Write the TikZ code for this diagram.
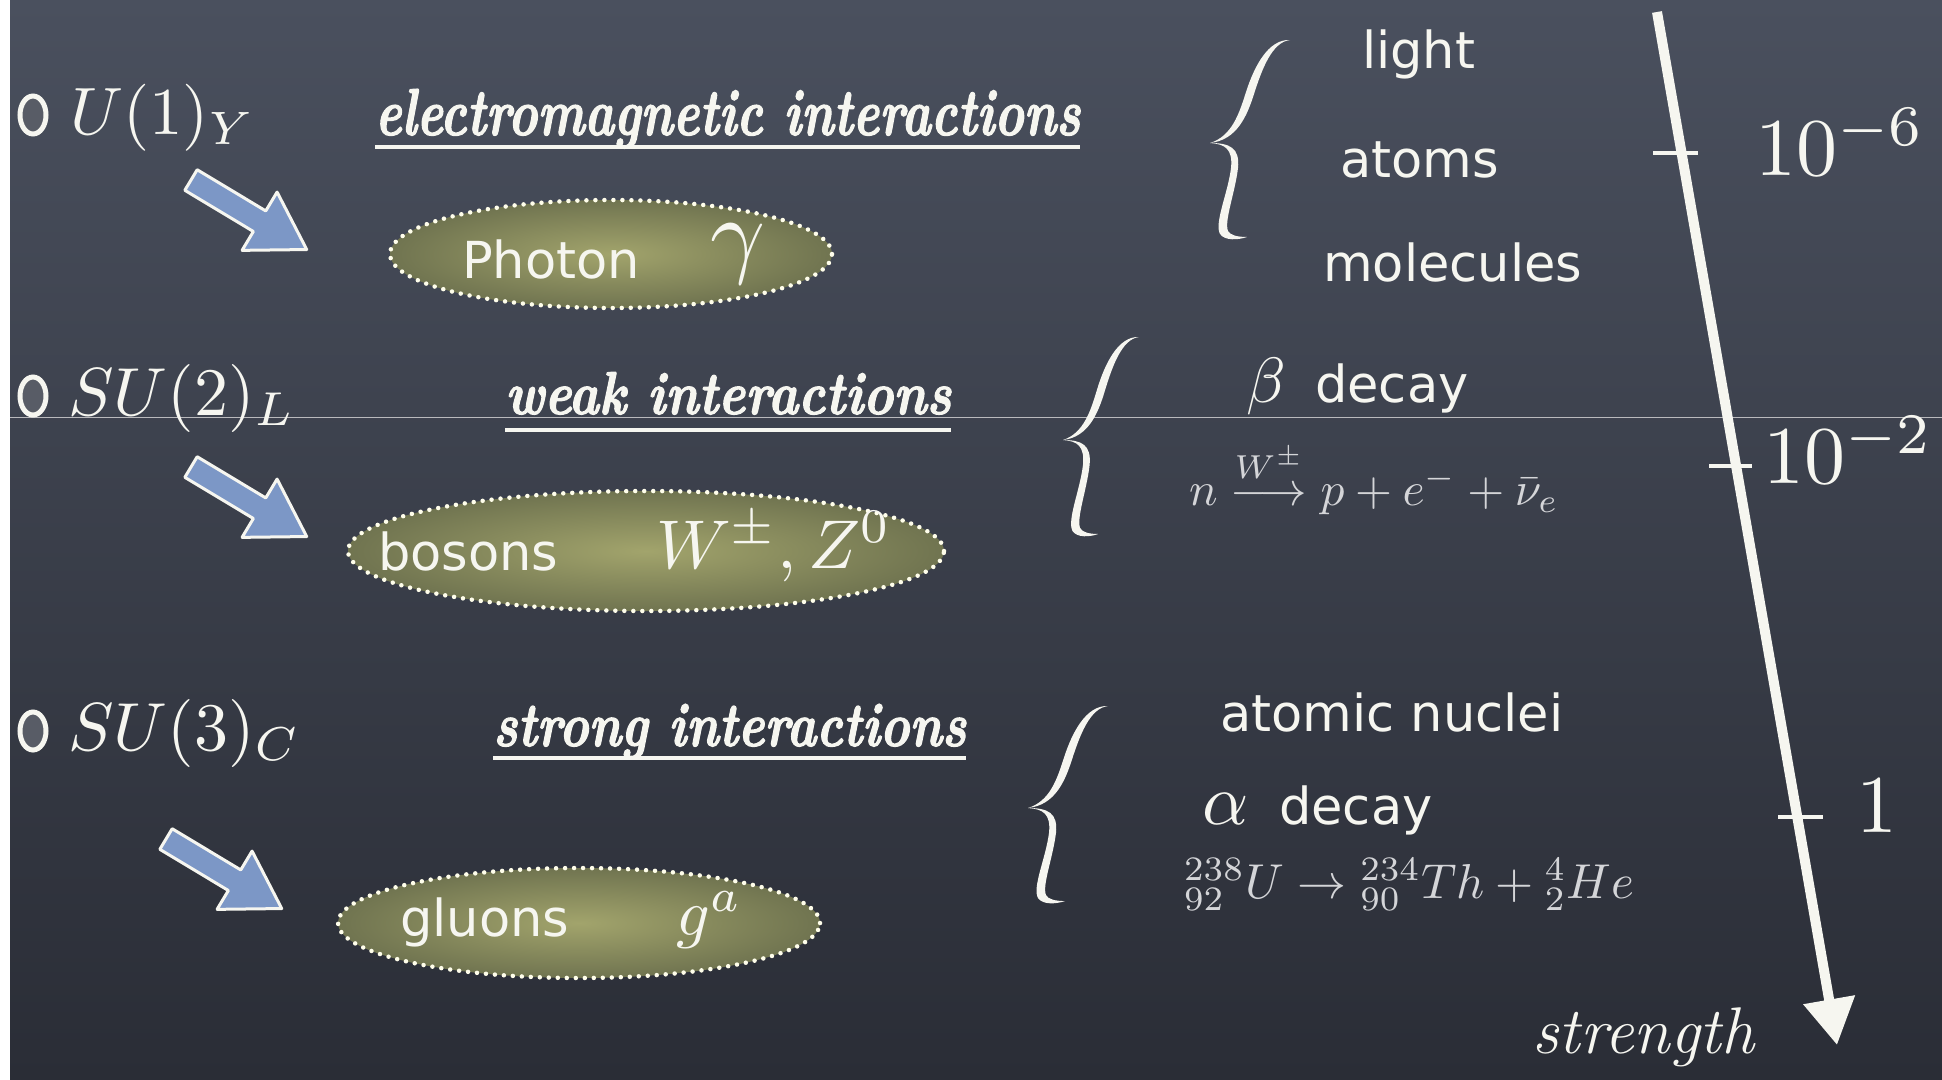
\documentclass[tikz,border=0pt]{standalone}
\usepackage{fontspec}
\usepackage{graphicx}
\usetikzlibrary{arrows.meta,shapes.geometric}
\newfontfamily\chalk{DejaVu Sans}
\newfontfamily\titlefont{lmroman10-bolditalic.otf}[FakeBold=2]
\definecolor{bgtop}{RGB}{74,80,94}
\definecolor{bgmid}{RGB}{60,65,78}
\definecolor{bgbot}{RGB}{42,45,54}
\definecolor{oliveIn}{RGB}{162,164,108}
\definecolor{oliveOut}{RGB}{112,116,80}
\definecolor{arrowblue}{RGB}{124,151,198}
\definecolor{chalkwhite}{RGB}{246,246,240}
\definecolor{dimwhite}{RGB}{212,213,216}
\definecolor{bulletfill}{RGB}{88,92,102}
\newcommand{\mth}[2]{\scalebox{#1}{$#2$}}
\newcommand{\blkarrow}[2]{%
  \begin{scope}[shift={#1}, rotate=#2]
    \filldraw[fill=arrowblue, draw=chalkwhite, line width=3pt, line join=round]
      (0,12) -- (80,12) -- (80,34) -- (135,0) -- (80,-34) -- (80,-12) -- (0,-12) -- cycle;
  \end{scope}}
\newcommand{\chalkbrace}[2]{% #1 = tip coordinate, #2 = extra scope options
  \begin{scope}[shift={#1}, #2]
    \fill[chalkwhite] (80,-103) .. controls (58,-104) and (44,-76) .. (36,-51)
      .. controls (29,-29) and (22,-7) .. (0,0)
      .. controls (27,-3) and (37,-27) .. (44,-49)
      .. controls (52,-74) and (62,-101) .. (80,-103) -- cycle;
    \fill[chalkwhite] (0,0) .. controls (15,1) and (23,6) .. (21,25)
      .. controls (18,50) and (4,80) .. (10,91)
      .. controls (15,98) and (28,97) .. (37,94)
      .. controls (27,94) and (20,92) .. (18,88)
      .. controls (14,78) and (25,50) .. (28,25)
      .. controls (30,5) and (20,0) .. (0,0) -- cycle;
  \end{scope}}
\tikzset{
  lbl/.style={inner sep=0pt, anchor=base west, text=chalkwhite},
  chalktext/.style={lbl, font=\chalk\fontsize{51}{60}\selectfont},
  react/.style={lbl, text=dimwhite},
  title/.style={lbl, font=\titlefont},
  uline/.style={draw=chalkwhite, line width=3.5pt},
  bullet/.style={draw=chalkwhite, fill=bulletfill, line width=5pt},
  particle/.style={ellipse, inner sep=0pt, inner color=oliveIn, outer color=oliveOut,
    draw=white!92!yellow, line width=4.5pt, dash pattern=on 0pt off 9pt, line cap=round},
  tick/.style={draw=chalkwhite, line width=4.5pt},
  axis/.style={draw=chalkwhite, line width=10pt, -{Triangle[length=46pt,width=50pt]}},
}
\begin{document}
\begin{tikzpicture}[x=1pt,y=-1pt]
\useasboundingbox (0,0) rectangle (1942,1079);
\fill[white] (0,0) rectangle (10,1079);
\shade[top color=bgtop, middle color=bgmid, bottom color=bgbot] (10,0) rectangle (1942,1079);
\draw[line width=1pt, color=white!70!gray, opacity=0.8] (10,417.5) -- (1942,417.5);

% ---- group labels
\draw[bullet] (33,115) ellipse [x radius=13, y radius=19];
\node[lbl] (u1) at (70,134) {\mth{6.7}{U(1)_Y}};
\draw[bullet] (33,396) ellipse [x radius=13, y radius=19];
\node[lbl] (su2) at (68,415) {\mth{6.8}{SU(2)_L}};
\draw[bullet] (33,731) ellipse [x radius=13, y radius=19];
\node[lbl] (su3) at (68,750) {\mth{6.8}{SU(3)_C}};

% ---- interaction titles
\node[title] (em) at (375,135) {\resizebox{705pt}{46pt}{electromagnetic interactions}};
\draw[uline] (375,147) -- (1080,147);
\node[title] (weak) at (505,414) {\resizebox{446pt}{42pt}{weak interactions}};
\draw[uline] (505,430) -- (951,430);
\node[title] (strong) at (493,746) {\resizebox{473pt}{42pt}{strong interactions}};
\draw[uline] (493,758) -- (966,758);

% ---- block arrows
\blkarrow{(191,180)}{-31}
\blkarrow{(191,467)}{-31}
\blkarrow{(166,839)}{-31}

% ---- particle ellipses
\node[particle, minimum width=442pt, minimum height=108pt] (e1) at (611,254) {};
\node[chalktext] (photon) at (462,278) {Photon};
\node[lbl] (gam) at (710,265) {\mth{9.6}{\gamma}};

\node[particle, minimum width=596pt, minimum height=120pt] (e2) at (646,551) {};
\node[chalktext] (bosons) at (378,570) {bosons};
\node[lbl] (wz) at (656,568) {\mth{6.9}{W^{\pm},Z^0}};

\node[particle, minimum width=482pt, minimum height=110pt] (e3) at (579,923) {};
\node[chalktext] (gluons) at (400,936) {gluons};
\node[lbl] (ga) at (676,935) {\mth{6.6}{g^a}};

% ---- braces
\chalkbrace{(1210,143)}{}
\chalkbrace{(1063,440)}{xscale=0.95}
\chalkbrace{(1028,808)}{yscale=0.99}

% ---- examples
\node[chalktext] (light) at (1362,68) {light};
\node[chalktext] (atoms) at (1340,177) {atoms};
\node[chalktext] (molec) at (1323,281) {molecules};

\node[lbl] (beta) at (1246,402) {\mth{6.4}{\beta}};
\node[chalktext] (bdecay) at (1315,402) {decay};
\node[react] (nreac) at (1189,505) {\mth{4.75}{n\stackrel{W^{\pm}}{\longrightarrow}p+e^{-}+\bar{\nu}_e}};

\node[chalktext] (nuclei) at (1220,731) {atomic nuclei};
\node[lbl] (alpha) at (1202,824) {\mth{7.2}{\alpha}};
\node[chalktext] (adecay) at (1279,824) {decay};
\node[react] (ureac) at (1184,898) {\mth{4.9}{{}^{238}_{92}U\rightarrow{}^{234}_{90}Th+{}^{4}_{2}He}};

% ---- strength axis
\coordinate (atop) at (1657,12);
\coordinate (abot) at (1837,1045);
\draw[axis] (atop) -- (abot);
\draw[tick] (1653,153) -- (1698,153);
\draw[tick] (1709,466) -- (1752,466);
\draw[tick] (1778,817) -- (1823,817);
\node[lbl] (s6) at (1755,175) {\mth{8.2}{10^{-6}}};
\node[lbl] (s2) at (1763,483) {\mth{8.2}{10^{-2}}};
\node[lbl] (s0) at (1856,832) {\mth{8.2}{1}};
\node[lbl, font=\itshape\fontsize{66}{78}\selectfont] (strength) at (1532,1053) {strength};
\end{tikzpicture}
\end{document}
